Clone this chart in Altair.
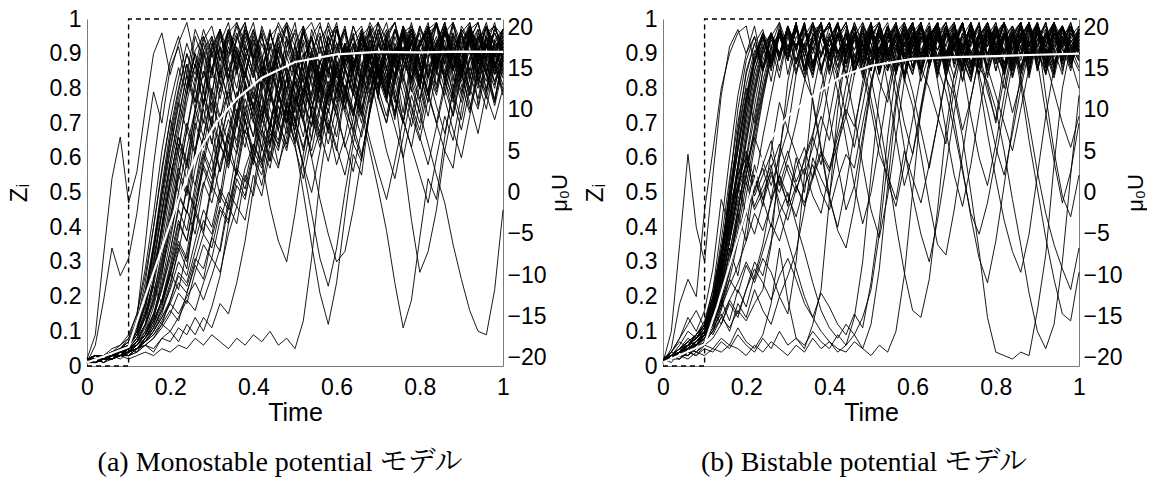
import altair as alt
import pandas as pd

# ---------------- data (values in percent of Z_i) ----------------
# (a) Monostable potential: individual trajectories, sampled every 0.02 time units
m01 = [1,2,3,2,4,5, 14,35,58,76, 88,95,84,97,91,78,93,99,86,72, 89,96,83,91,99,94,77,65,82,95, 98,87,93,79,96,99,90,84,70,88, 97,92,99,81,93,86,97,99,88,76, 90]
m02 = [2,9,32,54,66,47, 56,74,90,96, 84,93,99,88,75,91,97,83,95,99, 87,70,86,96,92,99,85,78,94,98, 89,96,81,73,90,99,94,86,97,91, 80,93,99,87,95,84,98,92,79,94, 97]
m03 = [1,6,19,34,26,31, 44,63,79,70, 86,92,80,95,88,73,90,97,84,93, 99,87,68,82,94,90,97,85,76,92, 98,88,95,80,91,99,86,72,89,96, 83,94,99,90,78,93,97,85,92,99, 88]
m04 = [1,2,1,3,2,4, 7,12,24,40, 54,66,58,74,85,78,92,81,70,88, 95,86,76,91,98,84,93,72,63,80, 92,97,86,95,89,77,94,99,88,82, 93,97,80,90,99,86,94,75,89,96, 91]
m05 = [2,1,3,2,3,5, 4,8,13,26, 41,57,50,68,79,70,86,76,91,84, 93,79,88,95,83,70,57,44,31,23, 34,50,64,59,75,86,79,92,85,96, 88,78,93,99,86,91,82,95,89,97, 93]
m06 = [1,2,2,3,4,3, 5,7,10,15, 23,34,28,45,57,50,66,74,63,80, 72,86,79,91,84,70,88,95,82,76, 90,97,86,93,79,88,96,83,91,99, 87,78,92,97,88,83,95,90,98,86, 93]
m07 = [1,1,2,2,3,3, 4,6,5,8, 10,7,12,9,14,11,18,15,24,36, 51,67,59,78,70,86,79,91,83,95, 87,76,92,97,85,80,93,78,60,42, 27,33,45,62,57,74,86,80,92,85, 94]
m08 = [1,2,1,2,3,2, 3,4,3,5, 4,6,5,8,6,9,7,5,8,6, 9,7,10,6,8,5,13,31,54,70, 62,79,88,77,92,84,95,87,73,90, 96,83,92,99,88,79,93,97,85,91, 96]
m09 = [2,1,3,2,4,3, 5,6,4,8, 7,11,9,14,10,17,26,41,58,71, 62,79,68,84,73,64,50,35,21,12, 24,43,61,55,74,86,77,90,95,83, 92,97,86,94,80,91,98,87,93,84, 90]
m10 = [1,3,2,4,3,6, 9,16,29,44, 59,71,84,74,89,94,81,95,87,97, 90,83,96,88,79,93,98,85,95,86, 77,91,83,73,62,51,39,24,11,19, 37,54,48,66,80,91,78,94,97,87, 92]
m11 = [1,2,2,3,4,5, 8,14,25,41, 57,69,81,90,79,92,97,85,94,99, 88,96,82,95,99,87,96,91,81,94, 97,86,79,93,96,85,77,91,94,82, 73,64,55,47,35,25,16,10,9,22, 45]
m12 = [2,1,3,2,4,4, 7,12,20,33, 47,61,54,71,80,69,85,77,89,81, 71,59,46,36,30,44,61,74,83,90, 79,92,85,95,87,97,90,81,96,88, 98,91,84,96,89,97,83,94,98,89, 95]
m13 = [1,2,3,3,5,6, 10,18,33,50, 65,77,87,76,91,95,84,96,89,98, 91,83,96,89,79,73,85,95,87,97, 91,98,86,96,83,92,97,88,98,93, 82,96,90,98,85,94,97,88,95,98, 91]
m14 = [2,3,2,4,5,7, 13,24,40,57, 71,61,79,87,75,91,83,94,85,96, 89,97,90,81,95,86,98,91,96,84, 97,87,95,98,89,96,83,97,91,79, 93,98,87,96,90,97,94,82,95,91, 97]
m15 = [1,1,2,3,3,4, 5,8,11,16, 24,33,45,38,52,60,49,65,55,71, 59,74,64,79,69,84,73,87,79,91, 83,93,86,95,88,97,91,83,96,89, 98,92,85,96,90,97,93,87,98,92, 95]
m16 = [2,2,3,4,4,6, 8,12,18,28, 40,54,68,80,70,86,92,82,95,88, 97,90,78,94,98,88,96,99,92,83, 97,89,98,91,99,94,85,97,90,98, 93,99,87,97,82,96,99,90,98,93, 97]
m17 = [1,2,2,3,4,3, 5,7,10,14, 18,15,20,24,19,26,34,48,62,75, 66,82,88,76,92,96,85,95,99,88, 97,91,80,95,98,88,96,99,90,97, 86,96,98,89,99,93,97,84,96,98, 91]
m18 = [1,2,3,2,3,5, 6,9,15,24, 36,50,44,62,74,64,80,86,76,90, 94,84,96,88,98,92,82,97,90,99, 93,86,98,91,97,83,95,99,89,97, 92,98,85,96,99,90,97,93,84,98, 95]
m19 = [2,1,3,3,4,6, 10,20,35,52, 68,80,90,82,94,98,88,96,99,91, 97,85,95,98,89,82,72,60,48,38, 30,33,45,60,74,85,92,82,95,97, 88,98,92,99,90,84,97,93,99,89, 97]
m20 = [1,3,2,3,5,8, 15,28,44,62, 76,86,78,91,95,85,97,90,99,93, 84,98,91,99,94,83,97,89,98,92, 99,87,96,82,98,93,99,88,96,98, 90,97,99,92,85,98,94,99,89,97, 93]
m21 = [1,2,2,3,3,4, 6,9,14,22, 31,42,36,50,61,54,68,60,73,66, 58,71,79,68,62,75,83,72,65,78, 86,74,68,81,89,77,70,84,91,80, 73,85,93,82,76,88,94,83,79,90, 86]
m22 = [2,2,3,3,4,5, 7,11,19,30, 45,58,70,62,77,69,56,66,79,71, 60,52,64,75,67,80,88,76,69,82, 74,63,71,84,78,90,82,73,86,93, 81,72,85,78,90,96,84,77,89,82, 87]
m23 = [1,1,2,2,3,4, 5,7,11,17, 26,38,52,45,60,72,64,58,70,82, 75,67,79,88,80,71,62,74,85,77, 90,83,74,66,78,87,80,92,84,75, 68,80,89,83,94,86,78,88,95,84, 90]
m24 = [2,3,2,4,4,6, 9,15,23,18, 27,36,31,44,38,52,47,61,55,68, 62,75,69,58,66,78,71,84,76,67, 79,88,81,72,85,93,86,77,70,83, 91,85,78,89,96,87,80,74,86,92, 84]
m25 = [1,2,1,3,3,4, 5,6,8,12, 16,13,21,29,25,37,33,46,41,55, 49,63,57,70,64,77,71,60,68,80, 74,86,79,70,82,91,84,76,88,95, 86,79,91,84,77,89,96,88,82,93, 88]
m26 = [2,2,3,4,5,7, 11,18,28,40, 54,66,59,73,85,77,68,80,90,82, 71,63,76,86,78,67,58,70,82,75, 87,80,69,61,73,84,77,89,81,72, 65,77,88,80,92,85,74,86,93,81, 88]
m27 = [1,2,2,3,4,5, 6,9,13,19, 27,22,33,45,39,53,64,57,70,63, 76,69,59,72,83,75,66,79,88,81, 72,85,93,84,76,89,82,71,86,94, 87,78,90,83,72,85,94,88,80,91, 85]
m28 = [1,1,2,3,3,4, 5,7,9,12, 10,14,19,16,24,31,27,38,46,42, 55,49,62,57,69,63,54,66,75,68, 80,73,64,77,85,78,70,82,90,83, 76,88,81,92,86,78,89,95,87,82, 90]
m29 = [1,2,2,3,3,4, 6,10,17,27, 38,49,44,57,66,60,72,79,73,84, 77,88,81,92,85,76,89,94,83,90, 79,93,86,97,88,81,94,90,98,85, 92,97,88,83,95,91,98,87,93,96, 89]
m30 = [2,2,3,3,4,5, 7,9,13,19, 29,41,36,48,58,52,63,71,65,77, 70,82,74,68,80,87,78,91,84,95, 88,79,92,86,97,90,82,95,88,93, 85,97,91,84,96,89,94,99,90,86, 94]
m31 = [1,1,2,2,3,3, 4,6,8,11, 15,21,18,27,35,31,42,50,46,57, 64,59,70,77,72,82,76,88,81,73, 86,92,84,96,89,80,93,87,98,91, 83,95,89,97,86,92,99,88,94,90, 96]
m32 = [2,3,3,4,5,6, 9,14,21,31, 43,55,49,62,71,65,56,68,77,70, 81,74,86,79,70,83,90,82,75,88, 93,85,78,91,96,87,81,93,88,97, 90,83,94,87,98,91,85,96,90,84, 93]
m33 = [1,2,2,3,4,4, 5,8,12,18, 26,35,30,43,53,47,58,67,61,73, 66,78,71,63,75,84,77,69,81,89, 82,74,87,94,86,78,91,84,96,88, 80,92,85,97,90,82,94,88,95,87, 92]
m34 = [1,1,2,2,3,4, 5,7,9,13, 18,24,21,30,38,34,45,41,52,48, 60,55,67,62,74,69,80,73,66,78, 85,79,72,86,92,83,76,89,95,87, 81,93,86,97,90,84,95,89,98,92, 86]
m35 = [2,2,3,4,4,6, 10,17,27,39, 52,64,57,70,63,76,68,59,72,81, 74,86,78,70,83,90,82,74,87,93, 84,77,90,96,88,80,92,86,97,89, 82,94,87,98,90,85,96,89,93,86, 95]
m36 = [1,2,2,3,3,5, 6,8,11,16, 22,30,26,36,45,40,51,46,57,53, 64,58,70,65,76,71,63,74,82,77, 88,80,73,85,91,84,78,90,95,86, 80,92,87,97,89,83,95,91,98,88, 93]
m37 = [1,1,2,3,3,4, 6,9,15,23, 33,45,39,52,62,56,68,61,74,67, 79,72,64,77,86,79,71,84,92,85, 76,89,95,87,81,93,88,97,90,83, 94,88,99,91,85,96,90,84,95,89, 97]
m38 = [2,3,3,4,5,7, 12,20,31,45, 58,50,63,74,66,80,72,64,77,85, 78,70,83,91,84,76,88,95,86,79, 91,97,88,82,94,87,79,92,96,89, 83,95,88,98,92,86,97,90,84,94, 89]
m39 = [1,2,2,3,4,5, 7,10,15,12, 19,27,24,33,42,38,49,45,56,51, 62,57,68,64,75,70,81,74,67,79, 87,80,72,84,91,85,78,90,96,88, 82,93,86,97,91,85,96,89,94,87, 91]
m40 = [1,1,2,2,3,3, 5,7,10,14, 19,26,23,31,28,37,46,42,54,49, 61,68,63,75,70,82,76,69,80,88, 81,74,86,93,85,79,91,97,88,82, 94,89,98,91,86,95,90,97,88,93, 90]
m41 = [1,2,3,3,4,6, 11,20,34,50, 66,79,90,84,95,89,97,83,92,86, 74,62,70,81,73,64,77,88,80,69, 58,66,79,72,85,93,86,78,70,82, 91,84,75,67,79,88,95,86,78,71, 80]
m42 = [2,2,3,4,5,6, 9,15,25,38, 53,67,79,90,83,95,88,97,91,84, 96,89,80,71,63,75,84,76,67,59, 70,81,73,86,94,87,79,90,83,74, 66,58,69,80,72,84,91,82,74,87, 79]
m43 = [1,1,2,3,3,5, 8,14,23,36, 50,63,76,87,80,93,86,97,90,83, 94,88,97,85,76,68,79,90,82,73, 85,93,84,75,65,56,48,59,71,63, 76,87,79,92,84,76,88,95,87,80, 92]
m44 = [2,3,3,4,6,8, 13,22,35,49, 63,76,68,82,91,84,96,89,98,90, 83,95,87,78,89,97,90,81,72,64, 75,86,78,91,84,73,62,54,66,78, 70,83,93,85,77,68,80,90,84,75, 86]
m45 = [1,2,2,3,4,5, 7,12,19,29, 42,55,68,61,75,86,79,92,85,97, 89,80,93,86,76,67,58,50,62,74, 66,79,89,81,93,86,77,69,60,72, 84,76,88,96,89,81,73,85,93,87, 78]
m46 = [2,2,3,3,4,6, 10,18,30,44, 59,72,84,76,90,83,95,88,80,92, 85,77,69,81,91,84,96,88,79,71, 63,55,67,60,73,85,78,90,82,94, 86,78,70,62,74,87,80,92,85,77, 89]
m47 = [1,2,2,3,4,4, 6,9,14,22, 33,46,59,52,66,78,71,84,77,90, 83,93,86,79,71,83,94,87,77,68, 80,92,85,74,83,95,88,80,71,63, 55,47,60,72,65,78,89,81,93,86, 80]
m48 = [2,3,3,5,6,9, 15,26,40,56, 71,83,93,86,97,90,82,74,86,95, 88,80,92,85,74,65,77,89,81,92, 84,76,67,79,90,83,95,87,78,69, 81,92,86,77,68,60,72,84,77,88, 81]
m49 = [1,1,2,2,3,4, 5,8,12,19, 28,39,51,45,58,70,63,76,69,81, 74,86,79,71,83,92,85,77,88,80, 72,64,56,68,79,88,81,73,85,94, 87,79,70,82,91,84,76,67,79,90, 83]
m50 = [1,2,3,3,5,7, 12,21,33,47, 62,75,87,80,93,85,77,89,96,88, 80,72,84,93,86,78,70,62,74,86, 79,91,84,96,88,80,72,84,92,85, 77,89,95,87,79,71,83,91,84,76, 88]

# (b) Bistable potential: individual trajectories
b01 = [1,10,35,61,40,30, 55,78,92,97, 90,98,86,95,99,92,84,97,93,99, 88,94,98,85,91,97,99,89,96,82, 94,99,91,97,87,98,92,83,95,99, 90,97,86,94,99,91,85,97,93,98, 91]
b02 = [1,5,18,25,20,45, 62,80,90,96, 98,87,96,92,99,84,95,91,97,98, 86,99,92,96,83,97,95,88,96,99, 92,85,95,99,89,96,82,94,98,90, 95,99,87,96,92,98,84,99,94,89, 96]
b03 = [2,4,8,14,10,16, 28,48,40,56, 72,85,93,82,96,89,98,91,83,95, 99,88,96,86,98,93,84,96,90,99, 93,86,97,91,96,99,88,82,95,98, 89,96,85,99,92,96,87,98,93,86, 97]
b04 = [1,3,5,8,6,10, 18,30,45,52, 44,58,48,40,55,46,60,50,66,80, 90,83,95,87,97,90,98,92,84,95, 99,88,96,85,98,92,99,87,95,98, 90,96,83,95,99,89,96,86,98,93, 88]
b05 = [1,2,4,6,9,7, 11,15,10,18, 14,22,16,12,20,15,30,55,78,90, 95,86,97,91,98,86,95,99,89,84, 96,99,91,94,98,87,96,92,99,83, 95,98,88,96,92,99,86,96,93,98, 90]
b06 = [1,2,3,2,4,3, 5,4,6,5, 3,6,4,7,5,3,6,4,8,5, 7,4,6,9,5,12,28,52,75,88, 94,85,96,89,98,92,82,93,97,86, 95,99,88,96,84,98,92,86,95,98, 90]
b07 = [1,3,2,5,4,7, 12,25,45,68, 85,93,97,87,98,91,99,85,95,98, 89,96,83,95,99,90,82,76,89,95, 86,98,91,96,83,78,66,50,33,14, 4,3,2,4,3,16,32,58,80,92, 96]
b08 = [2,1,4,3,6,9, 15,30,52,74, 88,95,85,96,90,98,92,99,86,95, 98,89,96,87,99,93,85,95,98,89, 96,86,80,72,64,80,92,96,86,82, 74,62,48,35,21,10,5,12,30,55, 78]
b09 = [1,2,3,4,5,8, 14,26,40,58, 75,88,95,85,97,90,98,89,99,93, 84,96,91,98,88,95,99,89,96,83, 92,98,87,96,99,91,85,96,89,79, 71,87,94,81,65,51,37,25,15,13, 27]
b10 = [2,3,5,4,6,8, 13,22,36,50, 64,78,90,95,85,96,91,98,87,95, 99,90,96,84,93,83,71,57,41,27, 16,14,25,45,68,84,93,87,96,89, 98,93,85,95,99,88,96,91,84,97, 93]
b11 = [1,2,4,6,5,9, 16,28,42,55, 62,50,58,65,52,60,70,82,92,84, 95,98,87,96,91,99,89,85,96,92, 98,87,95,99,90,96,85,93,98,89, 96,99,91,85,95,98,88,96,92,99, 90]
b12 = [2,3,3,6,8,11, 18,32,50,66, 80,70,85,92,83,95,87,96,90,98, 85,95,99,89,84,96,91,98,93,83, 92,99,88,96,90,98,92,85,95,99, 89,96,87,98,93,99,86,95,98,90, 96]
b13 = [1,3,6,10,8,12, 9,14,11,16, 13,18,22,35,60,82,93,85,96,89, 98,91,84,96,90,99,87,95,98,89, 96,85,92,99,88,96,92,98,86,95, 99,90,96,92,85,98,93,99,87,96, 92]
b14 = [1,2,2,4,3,5, 4,7,5,9, 6,4,8,5,10,6,8,5,12,22, 48,74,90,95,85,96,90,98,87,95, 99,91,96,84,95,98,89,99,92,86, 96,90,98,93,99,85,96,91,98,88, 95]
b15 = [2,4,7,5,9,12, 20,36,54,70, 84,93,85,95,89,98,91,83,77,63, 49,39,34,46,64,80,92,96,87,98, 92,99,88,96,90,95,98,86,96,92, 99,89,95,98,87,96,92,99,85,95, 98]
b16 = [1,2,4,3,5,7, 10,17,28,44, 36,52,66,78,90,96,87,98,91,99, 85,96,90,98,87,95,99,91,96,84, 98,90,95,99,86,96,92,98,88,95, 91,99,94,85,95,98,90,99,88,96, 92]
b17 = [2,3,5,7,6,9, 12,20,34,26, 40,55,46,62,76,68,84,93,85,95, 89,98,91,99,92,86,96,89,98,92, 99,85,95,98,89,96,90,99,92,96, 85,95,98,89,99,92,87,96,93,98, 90]
b18 = [1,2,3,5,4,6, 8,12,18,14, 22,30,26,36,44,36,28,20,14,10, 7,5,4,7,5,3,6,4,10,26, 50,74,88,95,85,96,90,98,88,99, 93,84,96,91,98,86,95,99,89,96, 91]
b19 = [1,3,2,4,6,10, 16,30,48,64, 78,90,96,87,96,91,99,89,84,96, 92,98,89,99,93,85,95,90,99,88, 95,98,86,96,92,99,88,95,98,89, 96,85,95,99,90,96,87,98,91,89, 97]
b20 = [2,4,3,6,8,12, 22,40,60,78, 90,95,85,96,90,98,92,99,87,96, 91,95,99,89,96,87,98,91,94,83, 75,61,47,35,32,45,61,77,89,94, 87,96,91,98,85,99,92,96,88,98, 94]
b21 = [1,3,4,7,9,12, 20,31,43,52, 58,49,55,61,53,47,57,63,54,68, 82,91,86,95,89,97,84,93,98,88, 95,82,90,97,86,93,99,89,95,84, 92,98,88,96,83,94,99,90,95,87, 93]
b22 = [2,2,4,6,8,11, 17,28,39,48, 55,46,52,58,44,50,41,33,24,16, 11,8,12,9,14,22,38,59,77,90, 84,95,88,98,91,83,93,97,86,95, 89,80,92,97,87,94,99,88,92,85, 96]
b23 = [1,4,8,12,16,11, 15,19,13,22, 17,26,35,48,62,76,89,83,94,86, 72,58,45,52,66,81,92,86,95,88, 79,68,57,70,84,93,87,96,90,81, 70,83,94,88,97,91,84,93,98,89, 94]
b24 = [2,3,5,4,7,10, 16,27,41,56, 70,83,92,86,95,89,97,91,84,96, 90,98,87,94,85,74,61,55,48,62, 54,47,58,70,83,92,86,96,89,97, 92,85,95,99,88,96,91,84,97,92, 88]
b25 = [1,2,4,5,6,8, 12,19,30,44, 60,75,88,95,90,97,85,93,98,89, 95,84,72,63,75,88,96,90,82,70, 61,73,86,94,88,80,68,77,89,96, 91,84,73,82,93,97,90,83,94,88, 80]
b26 = [1,2,3,4,3,6, 5,8,6,11, 7,5,9,18,34,19,8,6,10,7, 5,9,6,14,30,55,78,91,85,96, 90,98,87,95,99,89,96,84,93,98, 88,95,91,99,86,94,97,89,96,91, 98]
b27 = [2,3,4,6,8,11, 19,33,50,67, 81,91,86,96,90,98,88,95,99,90, 96,86,94,98,89,96,84,93,98,87, 95,90,98,86,79,68,56,44,38,47, 60,74,87,94,89,97,92,86,95,90, 85]
b28 = [1,2,3,3,5,7, 11,18,27,39, 52,65,78,89,95,88,97,91,85,96, 92,99,88,95,90,97,86,94,98,90, 85,96,92,99,88,95,89,82,93,86, 78,70,62,74,86,93,88,79,70,63, 72]
b29 = [1,3,5,7,9,13, 22,34,46,55, 60,51,57,48,55,62,53,59,66,58, 72,85,93,87,96,90,98,86,94,99, 90,85,95,98,88,96,91,84,97,92, 98,87,95,90,99,86,94,97,89,95, 91]
b30 = [2,3,4,6,8,10, 15,24,36,47, 53,45,50,56,47,42,51,57,49,44, 56,68,81,90,85,95,89,97,92,84, 94,98,88,96,83,93,99,90,95,86, 97,91,84,95,99,88,96,92,98,87, 94]
b31 = [1,2,3,5,7,9, 13,18,25,21, 29,24,31,27,20,26,33,45,60,54, 49,63,76,88,95,89,97,92,85,96, 90,98,86,94,99,88,95,91,84,97, 93,86,96,99,89,94,98,87,95,90, 97]
b32 = [2,3,5,6,8,11, 16,12,19,15, 22,28,24,19,26,31,25,18,14,21, 17,12,9,15,11,24,42,66,85,93, 88,96,90,98,85,95,99,89,93,97, 87,95,91,98,84,96,92,99,88,94, 90]
b33 = [1,2,4,6,8,10, 17,26,38,50, 58,66,59,52,60,68,61,55,63,72, 65,78,90,96,88,97,91,98,86,94, 99,89,95,83,96,91,98,87,93,99, 90,85,96,92,98,86,95,99,89,93, 97]
b34 = [2,3,4,5,7,9, 14,22,33,45, 57,68,80,91,96,88,97,92,99,85, 94,98,90,96,87,77,65,53,46,58, 71,84,93,88,97,91,99,86,95,90, 98,84,93,97,89,96,91,85,98,92, 95]
b35 = [1,2,3,4,6,8, 12,17,23,29, 36,44,39,47,55,49,43,52,58,50, 45,54,61,57,70,82,91,86,96,90, 98,85,94,99,88,95,91,97,84,93, 98,90,96,86,95,99,89,94,97,88, 93]
b36 = [2,3,5,7,9,12, 19,28,40,52, 61,54,48,57,64,56,50,60,67,76, 89,95,87,97,91,98,85,93,99,88, 95,90,97,84,93,98,86,72,60,52, 64,78,90,96,88,97,92,99,86,94, 90]
b37 = [1,2,3,4,5,7, 10,14,19,24, 30,25,33,41,36,45,52,47,55,62, 57,66,74,69,80,91,96,88,97,90, 84,94,98,87,95,91,99,86,93,97, 89,95,83,92,98,90,96,87,94,99, 91]
b38 = [1,3,4,6,9,12, 20,33,49,63, 77,88,95,86,96,91,98,84,93,97, 89,95,99,87,94,90,97,85,92,98, 88,95,91,99,86,94,97,90,84,74, 63,55,67,80,91,96,88,97,92,98, 89]
b39 = [2,2,4,5,7,10, 15,21,28,36, 44,38,47,55,50,58,52,46,54,61, 56,64,72,84,93,88,97,91,85,96, 89,98,93,86,95,99,90,84,96,92, 98,87,95,90,97,85,94,99,91,88, 96]
b40 = [1,2,3,5,6,9, 13,20,30,42, 55,67,79,90,96,89,97,92,86,95, 99,90,96,84,93,98,88,95,91,97, 86,94,99,89,96,92,85,97,90,98, 93,87,95,99,88,96,91,84,97,92, 86]
b41 = [1,2,4,5,7,10, 16,27,42,58, 74,87,95,89,97,92,98,86,95,99, 90,96,84,72,58,45,37,49,66,82, 93,88,96,91,98,87,95,99,90,96, 85,94,98,89,96,92,99,87,95,90, 97]
b42 = [2,3,4,6,8,11, 18,30,46,62, 77,89,96,88,97,91,99,86,94,98, 89,96,91,98,85,94,99,90,78,63, 49,38,30,42,57,73,87,95,89,97, 92,99,86,95,90,97,84,93,98,89, 95]
b43 = [1,2,3,5,6,9, 14,23,36,51, 66,80,91,96,88,97,92,99,87,95, 98,90,96,85,94,99,89,96,92,98, 86,95,90,97,84,71,57,43,31,24, 36,52,69,84,93,88,97,91,98,86, 94]
b44 = [2,3,5,6,9,12, 20,32,47,62, 76,88,95,87,97,91,98,89,76,62, 48,40,52,67,82,92,97,88,96,91, 98,85,94,99,89,95,91,98,87,96, 90,99,86,94,97,88,73,59,47,56, 70]
b45 = [1,2,3,4,6,8, 12,19,29,41, 55,69,82,92,96,88,97,91,98,85, 94,99,89,96,92,98,86,95,99,90, 96,84,93,98,88,95,91,99,86,94, 97,89,95,83,70,56,44,35,28,22, 34]
b46 = [2,3,4,6,7,10, 15,25,38,53, 68,81,92,96,89,97,91,98,86,95, 99,88,96,91,97,85,94,81,66,52, 61,75,88,95,90,97,85,94,99,88, 96,91,97,84,93,98,90,95,87,97, 92]
b47 = [1,3,4,6,8,11, 17,28,43,58, 72,85,94,89,97,90,98,85,95,99, 88,96,92,98,87,95,90,97,84,93, 99,89,96,91,98,86,94,97,82,67, 54,42,33,27,38,55,72,86,94,89, 97]
b48 = [2,2,4,5,7,9, 13,21,32,45, 59,72,85,94,89,97,91,98,86,95, 90,79,65,52,41,50,64,79,91,96, 88,97,92,99,86,94,98,90,96,85, 93,99,89,95,91,97,86,94,98,90, 96]
b49 = [1,2,3,4,5,7, 10,16,25,36, 49,63,77,89,95,88,97,91,98,86, 94,99,90,96,87,95,91,98,85,93, 97,89,95,82,68,55,46,58,73,87, 95,90,97,86,94,99,89,96,92,98, 88]
b50 = [2,3,4,5,7,10, 15,24,36,50, 65,79,90,96,88,97,92,98,87,95, 99,90,96,85,94,98,89,95,91,97, 86,93,98,88,96,92,99,87,95,90, 97,85,94,98,89,96,78,62,49,43, 55]

# white ensemble-mean curves
mono_mean_t = [0, 0.1, 0.14, 0.18, 0.22, 0.26, 0.31, 0.36, 0.42, 0.5, 0.6, 0.7, 0.8, 0.9, 1.0]
mono_mean_z = [0.01, 0.055, 0.2, 0.34, 0.48, 0.6, 0.70, 0.77, 0.83, 0.876, 0.898, 0.905, 0.904, 0.906, 0.905]
bi_mean_t = [0, 0.1, 0.13, 0.16, 0.19, 0.22, 0.25, 0.3, 0.35, 0.43, 0.5, 0.6, 0.7, 0.8, 0.9, 1.0]
bi_mean_z = [0.01, 0.063, 0.17, 0.29, 0.41, 0.53, 0.64, 0.72, 0.77, 0.836, 0.865, 0.885, 0.89, 0.893, 0.897, 0.9]

# dashed input mu0*U (right axis)
step_t = [0, 0.1, 0.1, 1.0]
step_u = [-21, -21, 21, 21]

# axis ticks / labels
x_ticks = [0, 0.2, 0.4, 0.6, 0.8, 1.0]
z_ticks = [0, 0.1, 0.2, 0.3, 0.4, 0.5, 0.6, 0.7, 0.8, 0.9, 1.0]
u_ticks = [-20, -15, -10, -5, 0, 5, 10, 15, 20]

captions = ["(a) Monostable potential モデル", "(b) Bistable potential モデル"]

MONO_RUNS = [m01, m02, m03, m04, m05, m06, m07, m08, m09, m10, m11, m12, m13, m14,
             m15, m16, m17, m18, m19, m20, m21, m22, m23, m24, m25, m26, m27, m28,
             m29, m30, m31, m32, m33, m34, m35, m36, m37, m38, m39, m40, m41, m42,
             m43, m44, m45, m46, m47, m48, m49, m50]
BI_RUNS = [b01, b02, b03, b04, b05, b06, b07, b08, b09, b10, b11, b12, b13, b14,
           b15, b16, b17, b18, b19, b20, b21, b22, b23, b24, b25, b26, b27, b28,
           b29, b30, b31, b32, b33, b34, b35, b36, b37, b38, b39, b40, b41, b42,
           b43, b44, b45, b46, b47, b48, b49, b50]

SANS = "Liberation Sans, Arial, Helvetica, sans-serif"
SERIF = "Liberation Serif, Noto Serif CJK JP, Noto Sans CJK JP, serif"
AXIS_GRAY = "#7a7a7a"


def runs_frame(runs):
    rows = []
    for k, r in enumerate(runs):
        n = len(r)
        for i, v in enumerate(r):
            rows.append({"run": k, "t": i / (n - 1), "z": v / 100.0})
    return pd.DataFrame(rows)


def panel(runs, mean_t, mean_z, caption, dx):
    xenc = alt.X(
        "t:Q",
        scale=alt.Scale(domain=[0, 1], nice=False),
        axis=alt.Axis(values=x_ticks, format=".1~f", title="Time", labelFlush=False,
                      ticks=False, labelPadding=10, titlePadding=1,
                      titleFontSize=25, titleFontWeight="normal"),
    )
    zscale = alt.Scale(domain=[0, 1], nice=False)
    zaxis = alt.Axis(values=z_ticks, format=".1~f", title="Zᵢ", labelFlush=False,
                     ticks=False, labelPadding=6, titlePadding=18,
                     titleFontSize=24, titleFontWeight="normal")
    traces = alt.Chart(runs_frame(runs)).mark_line(
        color="black", strokeWidth=0.9
    ).encode(x=xenc, y=alt.Y("z:Q", scale=zscale, axis=zaxis), detail="run:N")

    sdf = pd.DataFrame({"t": step_t, "u": step_u, "k": list(range(len(step_t)))})
    step = alt.Chart(sdf).mark_line(
        color="black", strokeWidth=1.4, strokeDash=[5, 4]
    ).encode(
        x=xenc,
        y=alt.Y("u:Q", scale=alt.Scale(domain=[-21, 21], nice=False),
                axis=alt.Axis(orient="right", values=u_ticks, title="μ₀U", titleAngle=270,
                              labelFlush=False, ticks=False, labelPadding=4,
                              titlePadding=25, titleFontSize=22,
                              titleFontWeight="normal")),
        order="k:Q",
    )

    mdf = pd.DataFrame({"t": mean_t, "z": mean_z})
    mean = alt.Chart(mdf).mark_line(color="white", strokeWidth=2.2).encode(
        x=xenc, y=alt.Y("z:Q", scale=alt.Scale(domain=[0, 1], nice=False), axis=None)
    )

    return (
        alt.layer(traces, step, mean)
        .resolve_scale(y="independent")
        .properties(
            width=416, height=347,
            title=alt.Title(caption, orient="bottom", anchor="middle", font=SERIF,
                            fontSize=28, fontWeight="normal", color="black",
                            offset=24, dx=dx),
        )
    )


left = panel(MONO_RUNS, mono_mean_t, mono_mean_z, captions[0], -15)
right = panel(BI_RUNS, bi_mean_t, bi_mean_z, captions[1], -7)

chart = (
    alt.hconcat(left, right, spacing=12)
    .properties(padding={"left": 7, "top": 8, "right": 0, "bottom": 0}, background="white")
    .configure_view(stroke=None)
    .configure_axis(
        labelFont=SANS, titleFont=SANS, labelFontSize=23, labelColor="black",
        titleColor="black", domainColor=AXIS_GRAY, domainWidth=1, grid=False,
    )
)

chart.save("out.html", embed_options={"renderer": "svg", "actions": False})
